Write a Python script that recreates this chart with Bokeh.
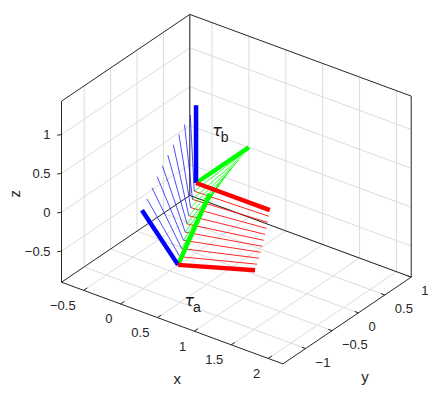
import numpy as np
from bokeh.plotting import figure
from bokeh.models import Range1d
from bokeh.embed import file_html
from bokeh.resources import INLINE
from bokeh.core.properties import value

# ---------------- data ----------------
x_lim = [-0.8, 2.2]
y_lim = [-1.43, 1.0]
z_lim = [-0.9, 1.43]
x_ticks = [-0.5, 0, 0.5, 1, 1.5, 2]
y_ticks = [-1, -0.5, 0, 0.5, 1]
z_ticks = [-0.5, 0, 0.5, 1]
x_tick_labels = ["\u22120.5", "0", "0.5", "1", "1.5", "2"]
y_tick_labels = ["\u22121", "\u22120.5", "0", "0.5", "1"]
z_tick_labels = ["\u22120.5", "0", "0.5", "1"]

frame_a_origin = [0.4, -0.9, -0.5]
frame_a_rpy = [0.5, -0.15, 0.2]      # rotx, roty, rotz (applied X*Y*Z)
frame_b_origin = [0.0, 0.0, 0.0]
frame_b_rpy = [0.0, 0.0, 0.0]
axis_length = 1.0
interp_steps = [0.0, 0.1, 0.2, 0.3, 0.4, 0.5, 0.6, 0.7, 0.8, 0.9, 1.0]

frame_names = ["a", "b"]
label_a_pos = [0.488, -0.9, -0.93]
label_b_pos = [0.22, 0.0, 0.75]

# ---------------- view (orthographic camera, page pixels) ----------------
VIEW_ORIGIN = (61.0, 281.7)          # screen position of (x0, y0, z0)
EX = (73.8, 27.23)                   # screen vector per unit x
EY = (52.8, -35.7)                   # per unit y
EZ = (0.0, -77.7)                    # per unit z


def proj(x, y, z):
    dx, dy, dz = x - x_lim[0], y - y_lim[0], z - z_lim[0]
    return (VIEW_ORIGIN[0] + dx * EX[0] + dy * EY[0] + dz * EZ[0],
            VIEW_ORIGIN[1] + dx * EX[1] + dy * EY[1] + dz * EZ[1])


def seg(p0, p1):
    a = proj(*p0)
    b = proj(*p1)
    return [a[0], b[0]], [a[1], b[1]]


def rotx(t):
    c, s = np.cos(t), np.sin(t)
    return np.array([[1, 0, 0], [0, c, -s], [0, s, c]])


def roty(t):
    c, s = np.cos(t), np.sin(t)
    return np.array([[c, 0, s], [0, 1, 0], [-s, 0, c]])


def rotz(t):
    c, s = np.cos(t), np.sin(t)
    return np.array([[c, -s, 0], [s, c, 0], [0, 0, 1]])


def rpy(a):
    return rotx(a[0]) @ roty(a[1]) @ rotz(a[2])


def angvec(th, k):
    k = np.asarray(k, float)
    K = np.array([[0, -k[2], k[1]], [k[2], 0, -k[0]], [-k[1], k[0], 0]])
    return np.eye(3) + np.sin(th) * K + (1 - np.cos(th)) * K @ K


Ra = rpy(frame_a_rpy)
Rb = rpy(frame_b_rpy)
oa = np.array(frame_a_origin, float)
ob = np.array(frame_b_origin, float)
Rrel = Ra.T @ Rb
theta = np.arccos(np.clip((np.trace(Rrel) - 1) / 2, -1, 1))
kvec = np.array([Rrel[2, 1] - Rrel[1, 2], Rrel[0, 2] - Rrel[2, 0], Rrel[1, 0] - Rrel[0, 1]])
kvec = kvec / np.linalg.norm(kvec) if np.linalg.norm(kvec) > 0 else np.array([0, 0, 1.0])


def frame_at(s):
    return (1 - s) * oa + s * ob, Ra @ angvec(s * theta, kvec)


# ---------------- figure ----------------
p = figure(width=435, height=394, x_range=Range1d(0, 435), y_range=Range1d(394, 0),
           output_backend="svg", toolbar_location=None, min_border=0)
p.axis.visible = False
p.grid.visible = False
p.outline_line_color = None
p.background_fill_color = "white"
p.border_fill_color = "white"

x0, x1 = x_lim
y0, y1 = y_lim
z0, z1 = z_lim

# grid lines
gx, gy = [], []
for xt in x_ticks:
    a, b = seg((xt, y0, z0), (xt, y1, z0)); gx.append(a); gy.append(b)
    a, b = seg((xt, y1, z0), (xt, y1, z1)); gx.append(a); gy.append(b)
for yt in y_ticks:
    a, b = seg((x0, yt, z0), (x1, yt, z0)); gx.append(a); gy.append(b)
    a, b = seg((x0, yt, z0), (x0, yt, z1)); gx.append(a); gy.append(b)
for zt in z_ticks:
    a, b = seg((x0, y0, zt), (x0, y1, zt)); gx.append(a); gy.append(b)
    a, b = seg((x0, y1, zt), (x1, y1, zt)); gx.append(a); gy.append(b)
p.multi_line(gx, gy, line_color="#dcdcdc", line_width=1)

# box edges
bx, by = [], []
for e in [((x0, y0, z0), (x1, y0, z0)), ((x1, y0, z0), (x1, y1, z0)),
          ((x0, y0, z0), (x0, y0, z1)), ((x0, y0, z0), (x0, y1, z0)),
          ((x0, y1, z0), (x1, y1, z0)), ((x0, y1, z0), (x0, y1, z1)),
          ((x1, y1, z0), (x1, y1, z1)), ((x0, y0, z1), (x0, y1, z1)),
          ((x0, y1, z1), (x1, y1, z1))]:
    a, b = seg(*e); bx.append(a); by.append(b)
# tick marks
for xt in x_ticks:
    a, b = seg((xt, y0, z0), (xt, y0 + 0.07, z0)); bx.append(a); by.append(b)
for yt in y_ticks:
    a, b = seg((x1, yt, z0), (x1 - 0.05, yt, z0)); bx.append(a); by.append(b)
for zt in z_ticks:
    a, b = seg((x0, y0, zt), (x0 - 0.03, y0 - 0.04, zt)); bx.append(a); by.append(b)
p.multi_line(bx, by, line_color="#262626", line_width=1)

# tick labels
font = value("Liberation Sans")
tx = [proj(xt, y0, z0) for xt in x_ticks]
p.text(x=[t[0] for t in tx], y=[t[1] for t in tx], text=x_tick_labels, text_font=font,
       text_font_size="13px", text_color="#262626", text_align="right",
       text_baseline="middle", x_offset=-8, y_offset=15)
ty = [proj(x1, yt, z0) for yt in y_ticks]
p.text(x=[t[0] for t in ty], y=[t[1] for t in ty], text=y_tick_labels, text_font=font,
       text_font_size="13px", text_color="#262626", text_align="left",
       text_baseline="middle", x_offset=10, y_offset=13.5)
tz = [proj(x0, y0, zt) for zt in z_ticks]
p.text(x=[t[0] for t in tz], y=[t[1] for t in tz], text=z_tick_labels, text_font=font,
       text_font_size="13px", text_color="#262626", text_align="right",
       text_baseline="middle", x_offset=-11, y_offset=0)

# axis labels
lx = proj((x0 + x1) / 2, y0, z0)
ly = proj(x1, (y0 + y1) / 2, z0)
lz = proj(x0, y0, (z0 + z1) / 2)
p.text(x=[lx[0]], y=[lx[1]], text=["x"], text_font=font, text_font_size="15px",
       text_color="#262626", text_align="center", text_baseline="middle", x_offset=5, y_offset=55)
p.text(x=[ly[0]], y=[ly[1]], text=["y"], text_font=font, text_font_size="15px",
       text_color="#262626", text_align="center", text_baseline="middle", x_offset=18, y_offset=56)
p.text(x=[lz[0]], y=[lz[1]], text=["z"], text_font=font, text_font_size="15px",
       text_color="#262626", text_align="center", text_baseline="middle", x_offset=-47, y_offset=2,
       angle=np.pi / 2)

# interpolated frames (thin)
colors = ["#ff0000", "#00ff00", "#0000ff"]
thin = {0: ([], []), 1: ([], []), 2: ([], [])}
for s in interp_steps:
    o, R = frame_at(s)
    for k in range(3):
        a, b = seg(o, o + axis_length * R[:, k])
        thin[k][0].append(a); thin[k][1].append(b)
p.multi_line(thin[0][0], thin[0][1], line_color=colors[0], line_width=1, line_alpha=0.85)
p.multi_line(thin[2][0], thin[2][1], line_color=colors[2], line_width=1, line_alpha=0.7)
p.multi_line(thin[1][0], thin[1][1], line_color=colors[1], line_width=1, line_alpha=0.8)

# thick end frames
for o, R in [(oa, Ra), (ob, Rb)]:
    for k in [1, 2, 0]:
        a, b = seg(o, o + axis_length * R[:, k])
        p.line(a, b, line_color=colors[k], line_width=4.5)

# frame labels
for pos, name in zip([label_a_pos, label_b_pos], frame_names):
    q = proj(*pos)
    p.text(x=[q[0]], y=[q[1]], text=["\u03c4"], text_font=value("DejaVu Sans"),
           text_font_style="italic", text_font_size="16px", text_color="#1a1a1a",
           text_align="left", text_baseline="alphabetic")
    p.text(x=[q[0]], y=[q[1]], text=[name], text_font=font, text_font_size="14px",
           text_color="#1a1a1a", text_align="left", text_baseline="alphabetic",
           x_offset=8.5, y_offset=6)

open("out.html", "w").write(file_html(p, INLINE))
